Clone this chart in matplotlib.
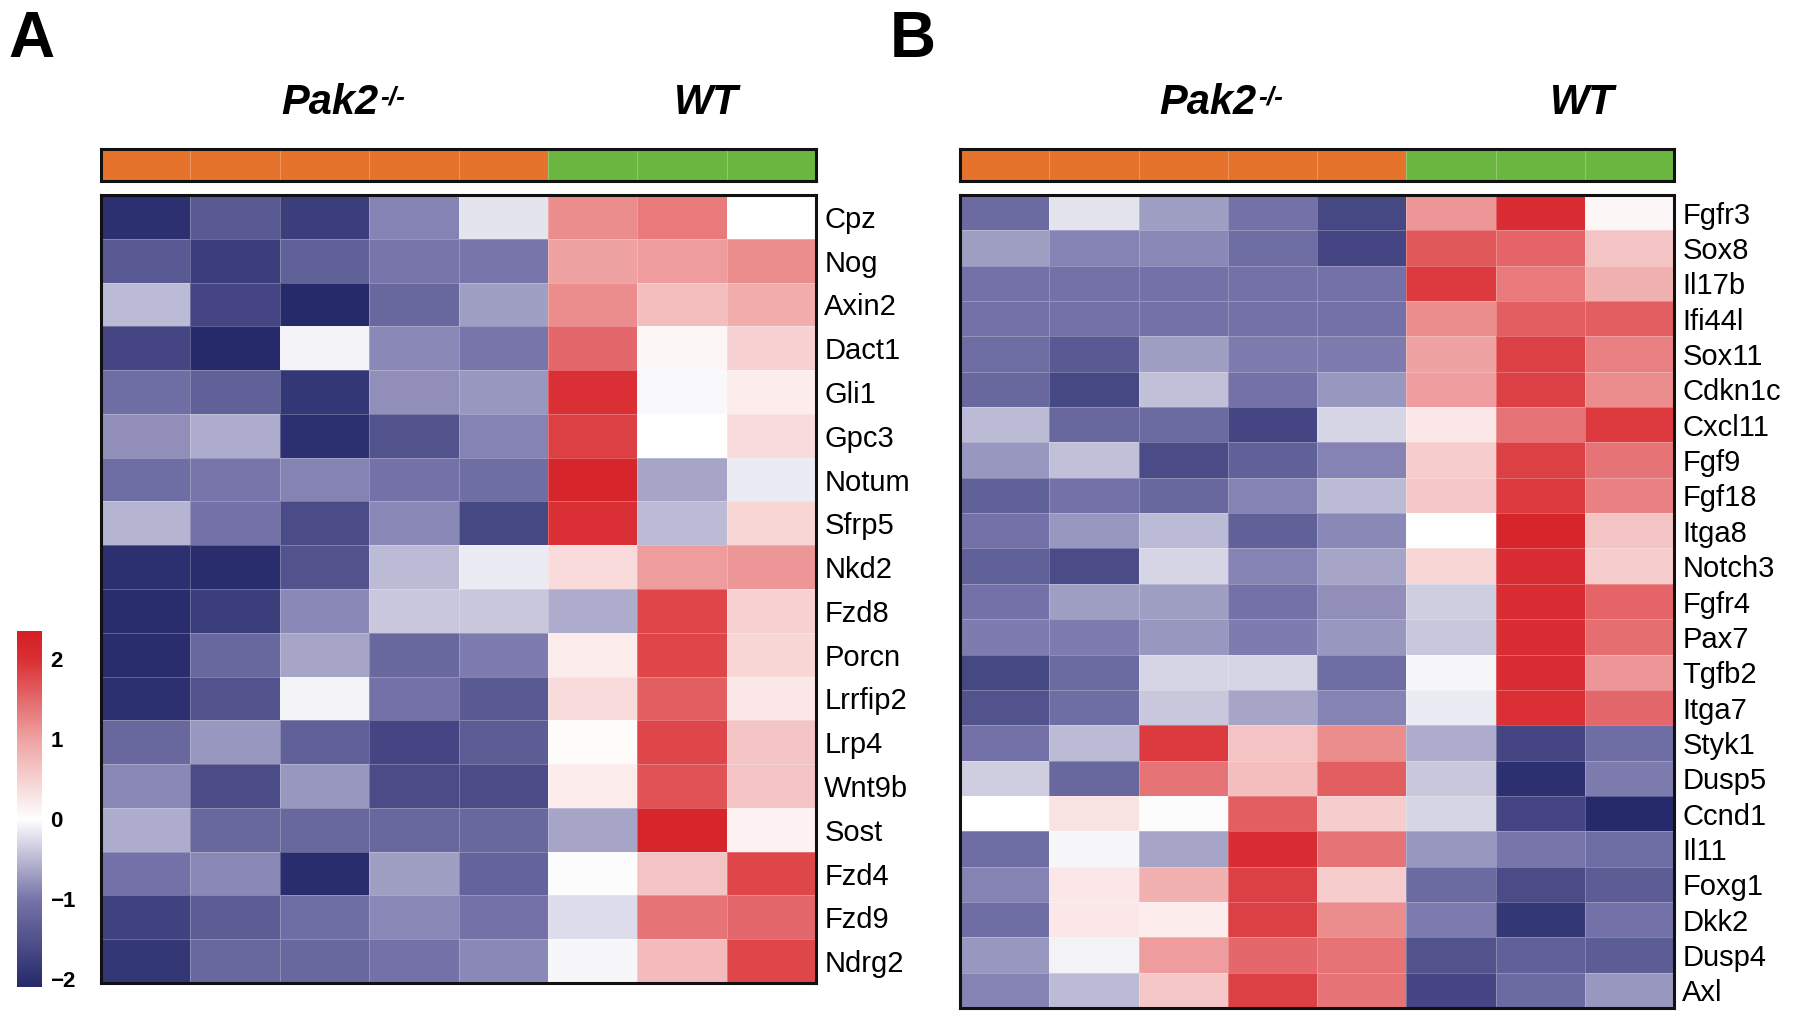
import numpy as np
import matplotlib
matplotlib.use("Agg")
import matplotlib.pyplot as plt
from matplotlib.colors import LinearSegmentedColormap, ListedColormap
from matplotlib import font_manager

names = {f.name for f in font_manager.fontManager.ttflist}
FONT = "Liberation Sans Narrow" if "Liberation Sans Narrow" in names else "Liberation Sans"
plt.rcParams['font.family'] = [FONT, 'DejaVu Sans']

groups = ["Pak2", "Pak2", "Pak2", "Pak2", "Pak2", "WT", "WT", "WT"]

genes_a = ["Cpz", "Nog", "Axin2", "Dact1", "Gli1", "Gpc3", "Notum", "Sfrp5", "Nkd2",
           "Fzd8", "Porcn", "Lrrfip2", "Lrp4", "Wnt9b", "Sost", "Fzd4", "Fzd9", "Ndrg2"]
values_a = [
    [-2.0, -1.4, -1.8, -0.9, -0.2, 1.2, 1.35, 0.02],
    [-1.4, -1.8, -1.3, -1.0, -1.0, 1.0, 1.05, 1.2],
    [-0.5, -1.7, -2.1, -1.2, -0.7, 1.2, 0.7, 0.9],
    [-1.7, -2.2, -0.1, -0.85, -1.0, 1.5, 0.1, 0.5],
    [-1.1, -1.3, -1.9, -0.8, -0.75, 2.0, -0.04, 0.2],
    [-0.8, -0.6, -2.0, -1.5, -0.9, 1.85, 0.02, 0.4],
    [-1.1, -1.0, -0.9, -1.05, -1.1, 2.2, -0.65, -0.15],
    [-0.55, -1.05, -1.6, -0.85, -1.65, 2.0, -0.5, 0.45],
    [-2.0, -2.05, -1.5, -0.5, -0.15, 0.4, 1.05, 1.1],
    [-2.05, -1.8, -0.85, -0.4, -0.4, -0.6, 1.8, 0.5],
    [-2.05, -1.2, -0.65, -1.2, -0.95, 0.2, 1.8, 0.45],
    [-2.0, -1.5, -0.1, -1.05, -1.4, 0.4, 1.6, 0.25],
    [-1.2, -0.75, -1.3, -1.7, -1.35, 0.05, 1.8, 0.65],
    [-0.85, -1.6, -0.75, -1.6, -1.6, 0.2, 1.7, 0.65],
    [-0.6, -1.2, -1.2, -1.2, -1.2, -0.65, 2.2, 0.15],
    [-1.05, -0.85, -2.05, -0.7, -1.25, -0.02, 0.65, 1.8],
    [-1.75, -1.35, -1.1, -0.85, -1.05, -0.25, 1.4, 1.5],
    [-1.9, -1.2, -1.2, -1.05, -0.85, -0.05, 0.75, 1.8],
]

genes_b = ["Fgfr3", "Sox8", "Il17b", "Ifi44l", "Sox11", "Cdkn1c", "Cxcl11", "Fgf9", "Fgf18",
           "Itga8", "Notch3", "Fgfr4", "Pax7", "Tgfb2", "Itga7", "Styk1", "Dusp5", "Ccnd1",
           "Il11", "Foxg1", "Dkk2", "Dusp4", "Axl"]
values_b = [
    [-1.15, -0.2, -0.7, -1.05, -1.65, 1.1, 2.05, 0.1],
    [-0.7, -0.9, -0.85, -1.1, -1.7, 1.65, 1.55, 0.65],
    [-1.05, -1.05, -1.05, -1.05, -1.05, 1.9, 1.35, 0.85],
    [-1.05, -1.05, -1.05, -1.05, -1.05, 1.2, 1.6, 1.6],
    [-1.1, -1.4, -0.7, -0.95, -0.95, 1.0, 1.85, 1.3],
    [-1.2, -1.65, -0.45, -1.05, -0.75, 1.05, 1.85, 1.2],
    [-0.5, -1.2, -1.15, -1.7, -0.3, 0.25, 1.4, 1.9],
    [-0.75, -0.45, -1.6, -1.3, -0.9, 0.55, 1.85, 1.4],
    [-1.3, -1.05, -1.2, -0.9, -0.5, 0.6, 1.9, 1.3],
    [-1.05, -0.75, -0.5, -1.3, -0.85, 0.02, 2.2, 0.65],
    [-1.3, -1.6, -0.3, -0.9, -0.65, 0.45, 2.05, 0.55],
    [-1.05, -0.7, -0.7, -1.05, -0.8, -0.35, 2.05, 1.55],
    [-0.95, -0.95, -0.75, -0.95, -0.75, -0.4, 2.05, 1.45],
    [-1.65, -1.15, -0.3, -0.3, -1.1, -0.05, 2.05, 1.1],
    [-1.5, -1.1, -0.4, -0.65, -0.9, -0.15, 2.0, 1.5],
    [-1.05, -0.5, 1.9, 0.65, 1.2, -0.6, -1.7, -1.1],
    [-0.35, -1.2, 1.4, 0.7, 1.6, -0.4, -2.0, -0.95],
    [0.02, 0.3, -0.02, 1.6, 0.55, -0.3, -1.7, -2.2],
    [-1.1, -0.05, -0.65, 2.05, 1.4, -0.75, -1.0, -1.1],
    [-0.9, 0.25, 0.85, 1.85, 0.55, -1.15, -1.6, -1.35],
    [-1.1, 0.25, 0.2, 1.85, 1.2, -0.95, -1.9, -1.05],
    [-0.75, -0.1, 1.05, 1.5, 1.4, -1.5, -1.3, -1.35],
    [-0.9, -0.5, 0.6, 1.85, 1.4, -1.7, -1.15, -0.75],
]

cbar_ticks = [-2, -1, 0, 1, 2]
cbar_ticklabels = ["\u22122", "\u22121", "0", "1", "2"]

VMIN, VMAX = -2.1, 2.35
stops = [(-2.1, '#262a6b'), (-1.0, '#7775aa'), (0.0, '#ffffff'),
         (1.0, '#efa3a3'), (2.0, '#da3035'), (2.35, '#d41f25')]
cmap = LinearSegmentedColormap.from_list(
    'bwr_custom', [((v - VMIN) / (VMAX - VMIN), c) for v, c in stops])

group_colors = {"Pak2": '#e5732b', "WT": '#6ab641'}

W, H = 1800, 1013
fig = plt.figure(figsize=(W / 100, H / 100), dpi=100)


def fax(l, t, r, b):
    return fig.add_axes([l / W, 1 - b / H, (r - l) / W, (b - t) / H])


def draw_panel(letter, lx, hm_box, bar_box, genes, values, title_x, fs_lab):
    ax = fax(*hm_box)
    data = np.array(values)
    ax.pcolormesh(data, cmap=cmap, vmin=VMIN, vmax=VMAX,
                  edgecolors=(1, 1, 1, 0.25), linewidth=0.6)
    ax.set_xlim(0, data.shape[1])
    ax.set_ylim(data.shape[0], 0)
    ax.set_xticks([])
    ax.set_yticks(np.arange(len(genes)) + 0.5)
    ax.set_yticklabels(genes, fontsize=fs_lab)
    ax.yaxis.tick_right()
    ax.tick_params(axis='y', length=0, pad=6)
    for s in ax.spines.values():
        s.set_linewidth(2.2)
        s.set_color('#111111')
    bx = fax(*bar_box)
    codes = np.array([[0 if g == "Pak2" else 1 for g in groups]])
    bx.pcolormesh(codes, cmap=ListedColormap([group_colors["Pak2"], group_colors["WT"]]),
                  vmin=0, vmax=1, edgecolors=(1, 1, 1, 0.25), linewidth=0.6)
    bx.set_xticks([]); bx.set_yticks([])
    for s in bx.spines.values():
        s.set_linewidth(2.2)
        s.set_color('#111111')
    t = fig.text(title_x[0] / W, 1 - 103 / H, "Pak2", fontsize=30, fontweight='bold',
                 style='italic', ha='center', va='center')
    fig.text(title_x[1] / W, 1 - 103 / H, "WT", fontsize=30, fontweight='bold',
             style='italic', ha='center', va='center')
    fig.text(lx / W, 1 - 40 / H, letter, fontsize=46, fontweight='bold',
             ha='center', va='center')
    return t


tA = draw_panel("A", 31, (101, 195, 816, 983), (101, 149, 816, 181), genes_a, values_a,
                (330, 706), 21)
tB = draw_panel("B", 913, (960, 195, 1674, 1008), (960, 149, 1674, 181), genes_b, values_b,
                (1208, 1582), 21)
for t in (tA, tB):
    fig.axes[0].annotate("-/-", xy=(1.0, 1.0), xycoords=t, xytext=(1, -2),
                         textcoords='offset points', fontsize=19, fontweight='bold',
                         style='italic', ha='left', va='top', annotation_clip=False)

cax = fax(17, 631, 42, 987)
grad = np.linspace(VMIN, VMAX, 256).reshape(-1, 1)
cax.imshow(grad, cmap=cmap, vmin=VMIN, vmax=VMAX, aspect='auto', origin='lower',
           extent=[0, 1, VMIN, VMAX])
cax.set_xticks([])
cax.yaxis.tick_right()
cax.set_yticks(cbar_ticks)
cax.set_yticklabels(cbar_ticklabels, fontsize=16, fontweight='bold')
cax.tick_params(axis='y', length=0, pad=6)
for s in cax.spines.values():
    s.set_visible(False)

fig.savefig("out.png", dpi=100)
